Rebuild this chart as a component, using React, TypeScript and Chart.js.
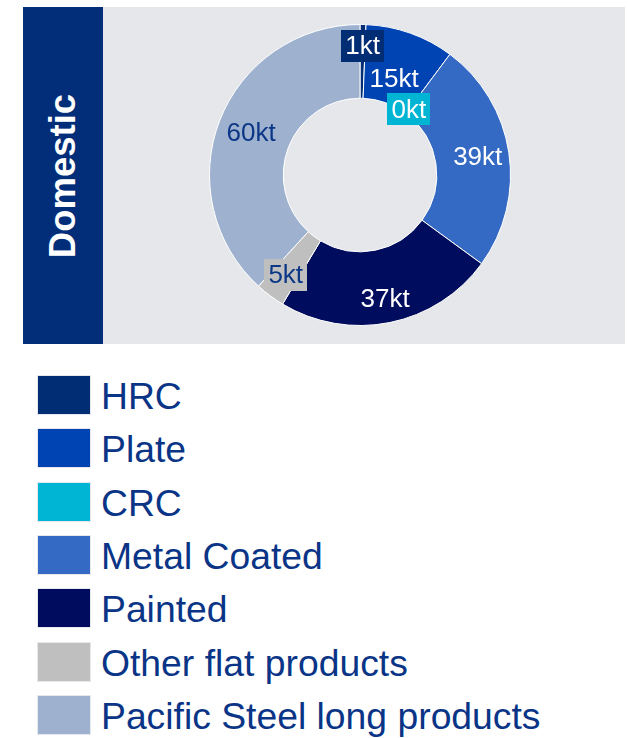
import React, { useEffect, useRef } from "react";
import { Chart, registerables } from "chart.js";

Chart.register(...registerables);

const categories = ["HRC", "Plate", "CRC", "Metal Coated", "Painted", "Other flat products", "Pacific Steel long products"];
const values = [1, 15, 0, 39, 37, 5, 60];
const unit = "kt";
const colors = ["#002D74", "#0043B2", "#00B5D3", "#346AC4", "#000C5E", "#BFBFBF", "#9EB1CF"];
const labelTextColors = ["#FFFFFF", "#FFFFFF", "#FFFFFF", "#FFFFFF", "#FFFFFF", "#0B3786", "#0B3786"];
const labelBoxColors = ["#002D74", null, "#00B5D3", null, null, "#BFBFBF", null];
// label radius as fraction of the outer radius
const labelRadius = [0.857, 0.678, 0.543, 0.791, 0.842, 0.826, 0.776];
const panelTitle = "Domestic";

const FONT = "'Liberation Sans', Arial, Helvetica, sans-serif";

const labelPlugin = {
  id: "sliceLabels",
  afterDatasetsDraw(chart: any) {
    const ctx = chart.ctx;
    const meta = chart.getDatasetMeta(0);
    ctx.save();
    ctx.font = `26px ${FONT}`;
    ctx.textAlign = "center";
    ctx.textBaseline = "middle";
    meta.data.forEach((arc: any, i: number) => {
      const p = arc.getProps(["x", "y", "startAngle", "endAngle", "outerRadius"], true);
      const mid = (p.startAngle + p.endAngle) / 2;
      const r = p.outerRadius * labelRadius[i];
      const x = p.x + Math.cos(mid) * r;
      const y = p.y + Math.sin(mid) * r;
      const text = `${Math.round(values[i])}${unit}`;
      const bg = labelBoxColors[i];
      if (bg) {
        const w = ctx.measureText(text).width + 8;
        const h = 32;
        ctx.fillStyle = bg;
        ctx.fillRect(Math.round(x - w / 2), Math.round(y - h / 2), Math.round(w), h);
      }
      ctx.fillStyle = labelTextColors[i];
      ctx.fillText(text, x, y + 1);
    });
    ctx.restore();
  },
};

function DonutChart() {
  const ref = useRef<HTMLCanvasElement | null>(null);
  useEffect(() => {
    if (!ref.current) return;
    const chart = new Chart(ref.current, {
      type: "doughnut",
      data: {
        labels: categories,
        datasets: [
          {
            data: values,
            backgroundColor: colors,
            borderColor: "#FFFFFF",
            borderWidth: 1,
          },
        ],
      },
      options: {
        responsive: false,
        animation: false,
        devicePixelRatio: 1,
        cutout: "51%",
        layout: { padding: { left: 106, right: 114, top: 17, bottom: 18 } },
        plugins: {
          legend: { display: false },
          tooltip: { enabled: false },
        },
      },
      plugins: [labelPlugin],
    } as any);
    return () => chart.destroy();
  }, []);
  return (
    <canvas
      ref={ref}
      width={522}
      height={337}
      style={{ position: "absolute", left: 103, top: 7, width: 522, height: 337, background: "#E6E7EB" }}
    />
  );
}

export default function App() {
  return (
    <div style={{ position: "absolute", left: 0, top: 0, width: 628, height: 738, background: "#FFFFFF", fontFamily: FONT }}>
      <div
        style={{
          position: "absolute",
          left: 23,
          top: 7,
          width: 80,
          height: 337,
          background: "#012D79",
        }}
      >
        <div
          style={{
            position: "absolute",
            left: "50%",
            top: "50%",
            transform: "translate(-50%, -50%) rotate(-90deg)",
            color: "#FFFFFF",
            fontWeight: "bold",
            fontSize: 36.5,
            whiteSpace: "nowrap",
            lineHeight: "36px",
          }}
        >
          {panelTitle}
        </div>
      </div>
      <DonutChart />
      {categories.map((c, i) => (
        <div key={c} style={{ position: "absolute", left: 0, top: 376 + i * 53.33, height: 38, width: 628 }}>
          <div
            style={{
              position: "absolute",
              left: 38,
              top: 0,
              width: 52,
              height: 38,
              background: colors[i],
              boxShadow: "0 0 0 1px #E6E8EE",
            }}
          />
          <div
            style={{
              position: "absolute",
              left: 101,
              top: 1,
              height: 38,
              lineHeight: "38px",
              fontSize: 37.3,
              color: "#0A3587",
              whiteSpace: "nowrap",
            }}
          >
            {c}
          </div>
        </div>
      ))}
    </div>
  );
}
